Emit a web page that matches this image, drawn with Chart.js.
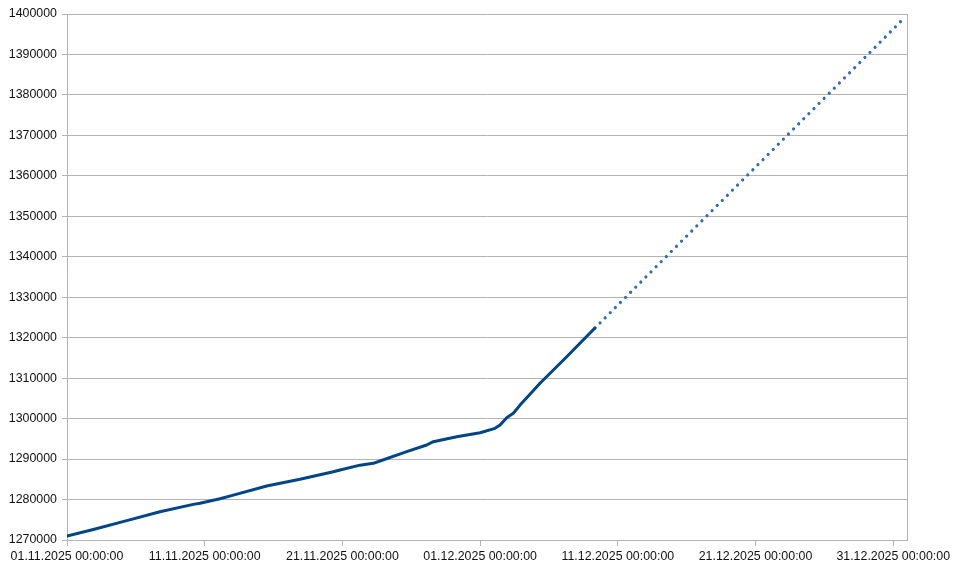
<!DOCTYPE html>
<html>
<head>
<meta charset="utf-8">
<script src="https://cdn.jsdelivr.net/npm/chart.js@4.4.1/dist/chart.umd.min.js"></script>
<style>
  html, body { margin: 0; padding: 0; background: #ffffff; }
  #wrap { width: 960px; height: 574px; position: relative; }
</style>
</head>
<body>
<div id="wrap"><canvas id="c" width="960" height="574"></canvas></div>
<script>
// Days since 01.11.2025 00:00:00
const startDate = [2025, 10, 1];
const actualDays = [0, 1.91, 4.34, 6.75, 9.17, 9.66, 11.11, 12.08, 14.5, 16.92, 19.34, 19.83, 21.28, 22.24, 22.73, 24.67, 26.12, 26.6, 28.3, 30.0, 31.08, 31.45, 31.93, 32.41, 32.9, 33.62, 34.35, 35.32, 36.29, 37.25, 38.34];
const actualValues = [1271000, 1272600, 1274800, 1277000, 1278800, 1279070, 1280200, 1281100, 1283350, 1285000, 1286880, 1287300, 1288500, 1288950, 1289530, 1291830, 1293480, 1294300, 1295530, 1296520, 1297600, 1298420, 1300230, 1301310, 1303340, 1306000, 1308730, 1312020, 1315300, 1318620, 1322400];
const trendDays = [38.34, 60.65];
const trendValues = [1322400, 1398500];
const xTickDays = [0, 10, 20, 30, 40, 50, 60];
const xMin = 0, xMax = 61;
const yMin = 1270000, yMax = 1400000, yStep = 10000;

const gridColor = '#b3b3b3';
const textColor = '#111111';
const fontFamily = '"Liberation Sans", Arial, sans-serif';

function fmtDay(d) {
  const dt = new Date(startDate[0], startDate[1], startDate[2] + Math.round(d));
  const p = n => String(n).padStart(2, '0');
  return p(dt.getDate()) + '.' + p(dt.getMonth() + 1) + '.' + dt.getFullYear() + ' 00:00:00';
}

const rightBorder = {
  id: 'rightBorder',
  afterDraw(chart) {
    const { ctx, chartArea } = chart;
    ctx.save();
    ctx.strokeStyle = gridColor;
    ctx.lineWidth = 1;
    const x = Math.round(chartArea.right) + 0.5;
    ctx.beginPath();
    ctx.moveTo(x, chartArea.top);
    ctx.lineTo(x, chartArea.bottom);
    ctx.stroke();
    ctx.restore();
  }
};

new Chart(document.getElementById('c'), {
  type: 'line',
  data: {
    datasets: [
      {
        data: actualDays.map((d, i) => ({ x: d, y: actualValues[i] })),
        borderColor: '#004586',
        borderWidth: 3,
        pointRadius: 0,
        tension: 0,
        borderCapStyle: 'round',
        borderJoinStyle: 'round',
        order: 1
      },
      {
        data: trendDays.map((d, i) => ({ x: d, y: trendValues[i] })),
        borderColor: '#2f6db0',
        borderWidth: 3.2,
        borderDash: [0.01, 7.2],
        borderCapStyle: 'round',
        pointRadius: 0,
        tension: 0,
        order: 2
      }
    ]
  },
  options: {
    responsive: false,
    animation: false,
    layout: { padding: { top: 14, right: 53, left: 0, bottom: 0 } },
    plugins: { legend: { display: false }, tooltip: { enabled: false } },
    scales: {
      x: {
        type: 'linear',
        min: xMin,
        max: xMax,
        afterBuildTicks: s => { s.ticks = xTickDays.map(v => ({ value: v })); },
        afterFit: s => { s.height = 34; },
        grid: { drawOnChartArea: false, drawTicks: true, tickLength: 6, color: gridColor, lineWidth: 1 },
        border: { display: true, color: gridColor, width: 1 },
        ticks: {
          autoSkip: false,
          maxRotation: 0,
          padding: 3,
          color: textColor,
          font: { family: fontFamily, size: 12.4 },
          callback: v => fmtDay(v)
        }
      },
      y: {
        type: 'linear',
        min: yMin,
        max: yMax,
        afterFit: s => { s.width = 67; },
        grid: { drawTicks: true, tickLength: 5, color: gridColor, lineWidth: 1 },
        border: { display: true, color: gridColor, width: 1 },
        ticks: {
          stepSize: yStep,
          padding: 5,
          color: textColor,
          font: { family: fontFamily, size: 12.4 },
          callback: v => String(v)
        }
      }
    }
  },
  plugins: [rightBorder]
});
</script>
</body>
</html>
